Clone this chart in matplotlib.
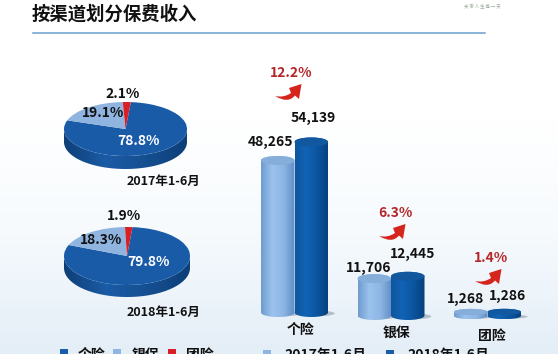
import matplotlib
matplotlib.use('Agg')
import matplotlib.pyplot as plt
import matplotlib.patches as mpatches
from matplotlib.colors import LinearSegmentedColormap
from matplotlib.path import Path
import numpy as np

plt.rcParams['font.family'] = ['Noto Sans CJK SC', 'DejaVu Sans']

# ── Data ────────────────────────────────────────────────────────
channels = ['个险', '银保', '团险']
periods = ['2017年1-6月', '2018年1-6月']
income_2017 = [48265, 11706, 1268]
income_2018 = [54139, 12445, 1286]
growth = ['12.2%', '6.3%', '1.4%']
share_2017 = [78.8, 19.1, 2.1]
share_2018 = [79.8, 18.3, 1.9]

# ── Colours ─────────────────────────────────────────────────────
DARK = '#1a5ba8'
LIGHT = '#8fb4e0'
RED = '#d81f26'
TXT = '#111111'
light_cm = LinearSegmentedColormap.from_list('l', ['#6f9ccf', '#9cc3ee', '#8db6e4', '#5f8ec4'])
dark_cm = LinearSegmentedColormap.from_list('d', ['#0f569f', '#1263b6', '#0b559f', '#063f7d'])
side_cm = LinearSegmentedColormap.from_list('s', ['#0e3f78', '#1b5ca6', '#154f92', '#0d3f78'])

W, H = 558, 354
fig = plt.figure(figsize=(W / 100, H / 100), dpi=100)


def px_axes(x0, y0, x1, y1, z=1):
    # axes placed by pixel box, y counted from the top
    ax = fig.add_axes([x0 / W, 1 - y1 / H, (x1 - x0) / W, (y1 - y0) / H], zorder=z)
    ax.axis('off')
    return ax


def shaded(ax, xs, ys, cmap, z):
    # horizontal gradient clipped to a polygon
    grad = np.linspace(0, 1, 64).reshape(1, -1)
    poly = mpatches.Polygon(np.column_stack([xs, ys]), closed=True, fc='none', ec='none', zorder=z)
    ax.add_patch(poly)
    im = ax.imshow(grad, cmap=cmap, aspect='auto', zorder=z,
                   extent=[min(xs), max(xs), min(ys), max(ys)], origin='lower')
    im.set_clip_path(poly)


# ── Background ──────────────────────────────────────────────────
bg = px_axes(0, 0, W, H, 0)
bg_cm = LinearSegmentedColormap.from_list('b', ['#ffffff', '#ffffff', '#f6fafd', '#e4eef7'])
bg.imshow(np.linspace(0, 1, 128).reshape(-1, 1), cmap=bg_cm, aspect='auto', extent=[0, W, H, 0])


# ── Pies ────────────────────────────────────────────────────────
def draw_pie(values, x0, y0, x1, y1, depth):
    ax = px_axes(x0, y0, x1, y1 + depth, 2)
    ry_px = (y1 - y0) / 2
    d = depth / ry_px
    t = np.linspace(np.pi, 2 * np.pi, 80)
    xs = np.r_[np.cos(t), np.cos(t[::-1])]
    ys = np.r_[np.sin(t) - d, np.sin(t[::-1])]
    shaded(ax, xs, ys, side_cm, 1)
    ax.pie(values, colors=[DARK, LIGHT, RED], startangle=85, counterclock=False,
           radius=1, wedgeprops={'linewidth': 0, 'zorder': 2})
    ax.set_aspect('auto')
    ax.set_xlim(-1, 1)
    ax.set_ylim(-1 - d, 1)


draw_pie(share_2017, 64, 102, 187, 156, 13)
draw_pie(share_2018, 64, 227, 190, 285, 12)

# ── Cylinder bars ───────────────────────────────────────────────
STEP = 96.5
PX_PER_UNIT = 0.00315
BASE_PX = 312.5
bar_left, bar_right = 240, 540
ax_bar = px_axes(bar_left, 125, bar_right, 325, 3)
x0_data = -(294.5 - bar_left) / STEP
x1_data = (bar_right - 294.5) / STEP
y_top = (BASE_PX - 125) / PX_PER_UNIT
y_bot = (BASE_PX - 325) / PX_PER_UNIT
BAR_W = 33.5 / STEP
ELL = 4.5 / PX_PER_UNIT      # half height of the cap, in value units
base_drop = [0 / PX_PER_UNIT, 3 / PX_PER_UNIT, 3.5 / PX_PER_UNIT]   # baseline sinks to the right


def cylinder(ax, cx, val, drop, cmap, cap):
    th = np.linspace(0, np.pi, 60)
    rx = BAR_W / 2
    ex = cx + rx * np.cos(th)
    e = ELL if val > 5000 else ELL * 0.7
    top = val - drop
    # shadow to the right of the base
    ax.add_patch(mpatches.Ellipse((cx + rx * 0.3, -drop - 0.2 * e), BAR_W * 1.1, e * 1.3,
                                  fc='#55606e', ec='none', alpha=0.35, zorder=1))
    xs = np.r_[ex, ex[::-1]]
    ys = np.r_[top + e * np.sin(th), -drop - e * np.sin(th[::-1])]
    shaded(ax, xs, ys, cmap, 2)
    ax.add_patch(mpatches.Ellipse((cx, top), BAR_W, 2 * e, fc=cap, ec='none', zorder=3))


for i in range(len(channels)):
    cylinder(ax_bar, i - BAR_W / 2, income_2017[i], base_drop[i], light_cm, '#86aedb')
    cylinder(ax_bar, i + BAR_W / 2, income_2018[i], base_drop[i], dark_cm, '#11589f')
ax_bar.set_xlim(x0_data, x1_data)
ax_bar.set_ylim(y_bot, y_top)

# ── Overlay in pixel coordinates ────────────────────────────────
ov = px_axes(0, 0, W, H, 5)
ov.set_xlim(0, W)
ov.set_ylim(H, 0)

ov.text(32, 14, '按渠道划分保费收入', fontsize=13.2, fontweight='black', color='#111111',
        ha='left', va='center')
ov.plot([33, 485], [32.5, 32.5], color='#6b9fcb', lw=1.1)
ov.text(482, 5.5, ' '.join('关爱人生每一天'), fontsize=3.2, color='#9aa89a', ha='center', va='center')


def label(x, y, s, color=TXT, size=10, weight='bold'):
    ov.text(x, y, s, fontsize=size, color=color, fontweight=weight, ha='center', va='center')


# pie labels
pie_pos = [[(139, 141), (103, 113), (123, 94)], [(148, 262), (101, 240), (124, 216)]]
for vals, pos in zip([share_2017, share_2018], pie_pos):
    for j, (v, (x, y)) in enumerate(zip(vals, pos)):
        label(x, y, f'{v:.1f}%', color='white' if j == 0 else TXT)
label(163, 181, periods[0], size=9)
label(164, 312, periods[1], size=9)

# bar labels
pos_2017 = [(270, 142), (369, 268), (465, 299)]
pos_2018 = [(313, 118), (413, 254), (508, 296)]
for v, (x, y) in zip(income_2017, pos_2017):
    label(x, y, f'{v:,}')
for v, (x, y) in zip(income_2018, pos_2018):
    label(x, y, f'{v:,}')

cat_pos = [(301, 330), (396, 333), (492, 336)]
for name, (x, y) in zip(channels, cat_pos):
    label(x, y, name, size=10)

# growth labels and arrows
arrow_verts = [(-16, 23), (-7, 25), (0, 20), (-2, 15), (10.5, 11), (8, 26), (4, 22.5), (-3, 31), (-16, 23), (-16, 23)]
arrow_codes = [Path.MOVETO, Path.CURVE3, Path.CURVE3, Path.LINETO, Path.LINETO, Path.LINETO,
               Path.LINETO, Path.CURVE3, Path.CURVE3, Path.CLOSEPOLY]
gr_pos = [(291, 73), (395, 213), (491, 258)]
for g, (x, y) in zip(growth, gr_pos):
    label(x, y, g, color='#b5262a')
    verts = [(x + a, y + b) for a, b in arrow_verts]
    ov.add_patch(mpatches.PathPatch(Path(verts, arrow_codes), fc='#d5261e', ec='none', zorder=4))

# legend, cut by the lower edge as in the source
for x, c, s in [(64, DARK, '个险'), (117, LIGHT, '银保'), (172, RED, '团险')]:
    ov.add_patch(mpatches.Rectangle((x - 4, 349), 8, 8, fc=c, ec='none'))
    label(x + 28, 355, s, size=10)
for x, c, s in [(267, LIGHT, periods[0]), (390, DARK, periods[1])]:
    ov.add_patch(mpatches.Rectangle((x - 4, 350), 8, 8, fc=c, ec='none'))
    label(x + 58, 355, s, size=10)

fig.savefig('out.png', dpi=100)
